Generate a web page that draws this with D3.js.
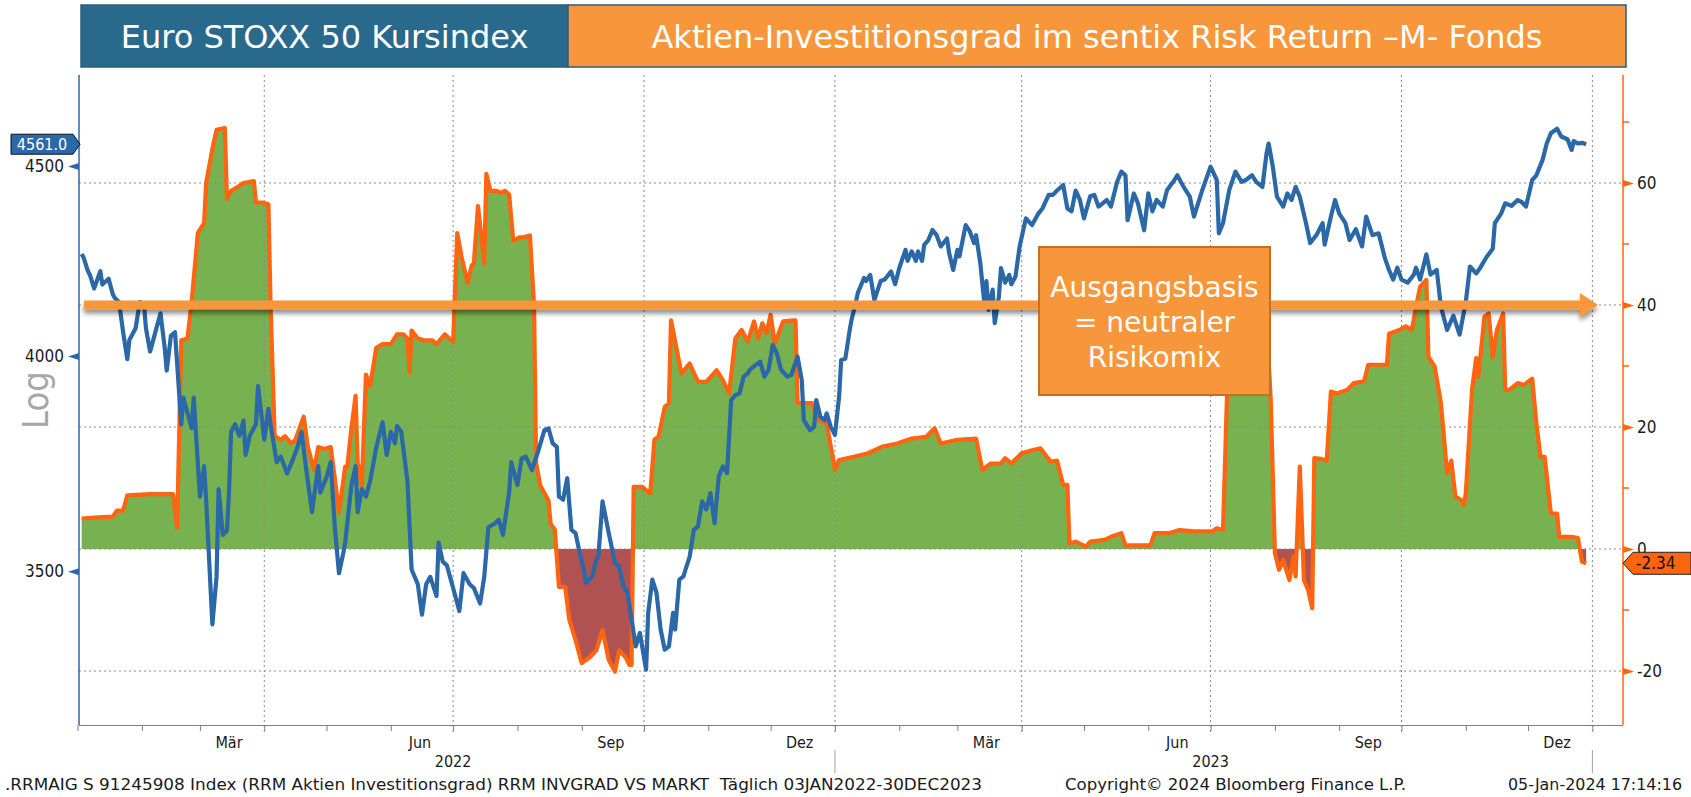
<!DOCTYPE html>
<meta charset="utf-8">
<body style="margin: 0; overflow: hidden; background: #fff">
<script src="https://d3js.org/d3.v7.min.js"></script>
<script>
    // Euro STOXX 50 Kursindex, left axis (log)
    var stoxx = [
        ["2022-01-03",4261],["2022-01-04",4251],["2022-01-06",4216],["2022-01-07",4206],["2022-01-09",4171],
        ["2022-01-12",4216],["2022-01-13",4181],["2022-01-16",4196],["2022-01-18",4156],["2022-01-19",4146],
        ["2022-01-21",4136],["2022-01-23",4059],["2022-01-25",3992],["2022-01-26",4040],["2022-01-29",4069],
        ["2022-01-31",4136],["2022-02-02",4131],["2022-02-03",4069],["2022-02-05",4011],["2022-02-06",4030],
        ["2022-02-08",4069],["2022-02-10",4107],["2022-02-12",4021],["2022-02-13",3964],["2022-02-15",4050],
        ["2022-02-17",4059],["2022-02-18",3982],["2022-02-20",3834],["2022-02-21",3898],["2022-02-23",3861],
        ["2022-02-25",3825],["2022-02-26",3898],["2022-03-01",3666],["2022-03-03",3736],["2022-03-04",3657],
        ["2022-03-07",3387],["2022-03-09",3488],["2022-03-10",3683],["2022-03-12",3580],["2022-03-14",3589],
        ["2022-03-15",3675],["2022-03-16",3816],["2022-03-18",3834],["2022-03-20",3807],["2022-03-22",3843],
        ["2022-03-23",3762],["2022-03-25",3807],["2022-03-28",3834],["2022-03-29",3926],["2022-04-01",3798],
        ["2022-04-03",3871],["2022-04-04",3834],["2022-04-07",3745],["2022-04-09",3758],["2022-04-12",3719],
        ["2022-04-15",3754],["2022-04-17",3780],["2022-04-19",3816],["2022-04-21",3736],["2022-04-24",3631],
        ["2022-04-27",3736],["2022-04-28",3675],["2022-05-01",3710],["2022-05-03",3745],["2022-05-05",3597],
        ["2022-05-07",3496],["2022-05-09",3538],["2022-05-10",3563],["2022-05-13",3692],["2022-05-15",3736],
        ["2022-05-16",3631],["2022-05-18",3683],["2022-05-20",3666],["2022-05-22",3701],["2022-05-25",3780],
        ["2022-05-28",3839],["2022-05-30",3762],["2022-06-01",3816],["2022-06-03",3789],["2022-06-04",3830],
        ["2022-06-06",3816],["2022-06-09",3701],["2022-06-11",3504],["2022-06-14",3472],["2022-06-16",3407],
        ["2022-06-18",3472],["2022-06-20",3488],["2022-06-23",3447],["2022-06-24",3563],["2022-06-26",3521],
        ["2022-06-28",3513],["2022-07-01",3464],["2022-07-04",3415],["2022-07-06",3496],["2022-07-09",3472],
        ["2022-07-11",3464],["2022-07-14",3431],["2022-07-16",3488],["2022-07-18",3597],["2022-07-21",3605],
        ["2022-07-23",3614],["2022-07-25",3580],["2022-07-28",3675],["2022-07-29",3745],["2022-08-01",3692],
        ["2022-08-03",3754],["2022-08-05",3758],["2022-08-08",3727],["2022-08-11",3771],["2022-08-14",3820],
        ["2022-08-16",3824],["2022-08-18",3789],["2022-08-20",3781],["2022-08-21",3666],["2022-08-23",3659],
        ["2022-08-25",3708],["2022-08-27",3591],["2022-08-29",3584],["2022-08-31",3540],["2022-09-02",3504],
        ["2022-09-03",3475],["2022-09-06",3489],["2022-09-08",3525],["2022-09-09",3532],["2022-09-11",3655],
        ["2022-09-14",3584],["2022-09-15",3562],["2022-09-17",3518],["2022-09-19",3511],["2022-09-21",3468],
        ["2022-09-23",3454],["2022-09-26",3369],["2022-09-27",3341],["2022-09-29",3369],["2022-10-02",3293],
        ["2022-10-03",3411],["2022-10-05",3482],["2022-10-07",3454],["2022-10-09",3376],["2022-10-11",3334],
        ["2022-10-13",3341],["2022-10-15",3411],["2022-10-16",3376],["2022-10-18",3482],["2022-10-20",3489],
        ["2022-10-21",3504],["2022-10-23",3532],["2022-10-25",3591],["2022-10-27",3599],["2022-10-29",3655],
        ["2022-10-31",3637],["2022-11-02",3674],["2022-11-04",3606],["2022-11-06",3712],["2022-11-08",3735],
        ["2022-11-10",3720],["2022-11-12",3892],["2022-11-14",3904],["2022-11-16",3908],["2022-11-18",3949],
        ["2022-11-20",3957],["2022-11-21",3966],["2022-11-23",3974],["2022-11-26",3986],["2022-11-28",3949],
        ["2022-11-30",3966],["2022-12-02",4027],["2022-12-04",4007],["2022-12-06",3966],["2022-12-09",3949],
        ["2022-12-11",3953],["2022-12-14",3998],["2022-12-16",3941],["2022-12-17",3844],["2022-12-20",3820],
        ["2022-12-22",3828],["2022-12-23",3892],["2022-12-25",3852],["2022-12-27",3844],["2022-12-28",3860],
        ["2022-12-30",3828],["2023-01-01",3809],["2023-01-03",3900],["2023-01-04",3990],["2023-01-06",3993],
        ["2023-01-08",4061],["2023-01-09",4091],["2023-01-11",4133],["2023-01-12",4159],["2023-01-15",4198],
        ["2023-01-16",4190],["2023-01-18",4206],["2023-01-20",4141],["2023-01-23",4190],["2023-01-25",4194],
        ["2023-01-28",4215],["2023-01-30",4182],["2023-02-01",4224],["2023-02-04",4272],["2023-02-05",4243],
        ["2023-02-07",4268],["2023-02-09",4243],["2023-02-10",4268],["2023-02-12",4243],["2023-02-13",4285],
        ["2023-02-15",4298],["2023-02-17",4325],["2023-02-19",4311],["2023-02-21",4281],["2023-02-24",4302],
        ["2023-02-25",4264],["2023-02-27",4219],["2023-03-01",4272],["2023-03-02",4255],["2023-03-05",4338],
        ["2023-03-07",4321],["2023-03-09",4290],["2023-03-10",4311],["2023-03-12",4239],["2023-03-14",4133],
        ["2023-03-15",4190],["2023-03-16",4116],["2023-03-18",4168],["2023-03-19",4082],["2023-03-21",4150],
        ["2023-03-22",4224],["2023-03-24",4186],["2023-03-26",4206],["2023-03-27",4182],["2023-03-29",4202],
        ["2023-03-31",4281],["2023-04-03",4356],["2023-04-06",4338],["2023-04-09",4369],["2023-04-11",4383],
        ["2023-04-14",4420],["2023-04-16",4420],["2023-04-18",4432],["2023-04-21",4447],["2023-04-23",4383],
        ["2023-04-25",4375],["2023-04-27",4432],["2023-04-29",4407],["2023-05-01",4356],["2023-05-04",4416],
        ["2023-05-06",4420],["2023-05-08",4388],["2023-05-10",4397],["2023-05-12",4406],["2023-05-14",4388],
        ["2023-05-17",4456],["2023-05-19",4484],["2023-05-21",4474],["2023-05-22",4351],["2023-05-25",4424],
        ["2023-05-27",4397],["2023-05-30",4324],["2023-06-01",4424],["2023-06-03",4375],["2023-06-05",4406],
        ["2023-06-08",4388],["2023-06-10",4433],["2023-06-13",4456],["2023-06-15",4474],["2023-06-18",4442],
        ["2023-06-21",4415],["2023-06-23",4361],["2023-06-27",4433],["2023-07-01",4498],["2023-07-04",4461],
        ["2023-07-05",4316],["2023-07-07",4343],["2023-07-10",4433],["2023-07-13",4484],["2023-07-16",4456],
        ["2023-07-18",4461],["2023-07-21",4474],["2023-07-23",4456],["2023-07-26",4442],["2023-07-28",4536],
        ["2023-07-29",4563],["2023-07-31",4498],["2023-08-02",4415],["2023-08-05",4388],["2023-08-07",4424],
        ["2023-08-09",4406],["2023-08-11",4442],["2023-08-13",4415],["2023-08-16",4343],["2023-08-18",4290],
        ["2023-08-21",4311],["2023-08-24",4343],["2023-08-25",4286],["2023-08-28",4361],["2023-08-30",4406],
        ["2023-09-01",4369],["2023-09-04",4343],["2023-09-06",4298],["2023-09-09",4327],["2023-09-12",4281],
        ["2023-09-14",4361],["2023-09-17",4311],["2023-09-20",4316],["2023-09-23",4250],["2023-09-25",4219],
        ["2023-09-27",4194],["2023-09-29",4225],["2023-10-01",4194],["2023-10-04",4186],["2023-10-07",4207],
        ["2023-10-08",4225],["2023-10-10",4194],["2023-10-13",4260],["2023-10-15",4207],["2023-10-18",4219],
        ["2023-10-20",4124],["2023-10-23",4065],["2023-10-26",4101],["2023-10-29",4053],["2023-11-01",4136],
        ["2023-11-03",4228],["2023-11-06",4210],["2023-11-08",4225],["2023-11-11",4253],["2023-11-14",4275],
        ["2023-11-15",4343],["2023-11-18",4369],["2023-11-20",4397],["2023-11-23",4390],["2023-11-26",4406],
        ["2023-11-28",4400],["2023-11-30",4388],["2023-12-03",4461],["2023-12-05",4474],["2023-12-08",4517],
        ["2023-12-10",4563],["2023-12-12",4592],["2023-12-15",4605],["2023-12-17",4583],["2023-12-20",4575],
        ["2023-12-22",4545],["2023-12-23",4570],["2023-12-25",4563],["2023-12-27",4565],["2023-12-29",4561]
    ];

    // Aktien-Investitionsgrad, right axis
    var invgrad = [
        ["2022-01-03",5.0],["2022-01-11",5.2],["2022-01-18",5.3],["2022-01-20",6.3],["2022-01-23",6.3],
        ["2022-01-25",8.8],["2022-02-05",9.0],["2022-02-16",9.0],["2022-02-18",3.5],["2022-02-20",34.2],
        ["2022-02-23",34.5],["2022-02-25",40.5],["2022-02-28",51.8],["2022-03-03",53.4],["2022-03-04",60.0],
        ["2022-03-07",65.6],["2022-03-09",68.7],["2022-03-13",69.0],["2022-03-14",57.4],["2022-03-16",58.7],
        ["2022-03-19",59.3],["2022-03-22",60.0],["2022-03-27",60.3],["2022-03-28",56.8],["2022-03-31",56.8],
        ["2022-04-03",56.5],["2022-04-04",40.5],["2022-04-06",18.5],["2022-04-09",17.9],["2022-04-11",18.5],
        ["2022-04-14",17.3],["2022-04-16",17.9],["2022-04-20",21.7],["2022-04-22",16.7],["2022-04-25",12.9],
        ["2022-04-27",16.7],["2022-04-30",16.4],["2022-05-03",16.7],["2022-05-05",11.6],["2022-05-07",6.0],
        ["2022-05-10",13.5],["2022-05-11",13.5],["2022-05-13",19.8],["2022-05-15",25.1],["2022-05-16",14.1],
        ["2022-05-18",10.4],["2022-05-20",28.6],["2022-05-22",26.7],["2022-05-25",33.0],["2022-05-28",33.6],
        ["2022-06-01",33.6],["2022-06-04",35.2],["2022-06-07",35.2],["2022-06-09",34.5],["2022-06-10",28.9],
        ["2022-06-11",35.8],["2022-06-14",34.5],["2022-06-17",34.2],["2022-06-21",34.2],["2022-06-23",33.6],
        ["2022-06-27",35.2],["2022-07-01",33.9],["2022-07-03",51.8],["2022-07-05",48.0],["2022-07-08",43.6],
        ["2022-07-10",46.5],["2022-07-11",46.8],["2022-07-13",56.2],["2022-07-16",46.8],["2022-07-17",61.5],
        ["2022-07-19",58.7],["2022-07-22",58.7],["2022-07-24",58.4],["2022-07-26",58.7],["2022-07-28",58.1],
        ["2022-07-30",50.5],["2022-08-02",51.1],["2022-08-04",51.1],["2022-08-07",51.4],["2022-08-09",39.9],
        ["2022-08-10",14.1],["2022-08-12",10.4],["2022-08-16",7.9],["2022-08-17",4.1],["2022-08-19",3.2],
        ["2022-08-21",-6.2],["2022-08-24",-6.2],["2022-08-26",-11.6],["2022-08-29",-14.9],["2022-09-01",-18.7],
        ["2022-09-05",-17.7],["2022-09-08",-16.6],["2022-09-11",-13.3],["2022-09-14",-18.2],["2022-09-17",-20.1],
        ["2022-09-19",-16.6],["2022-09-22",-17.7],["2022-09-24",-19.0],["2022-09-25",-19.0],["2022-09-26",10.2],
        ["2022-09-30",10.2],["2022-10-04",9.1],["2022-10-06",17.9],["2022-10-08",18.4],["2022-10-11",23.3],
        ["2022-10-13",23.9],["2022-10-14",37.5],["2022-10-19",28.8],["2022-10-23",30.4],["2022-10-27",27.4],
        ["2022-10-31",27.4],["2022-11-05",29.3],["2022-11-08",27.7],["2022-11-11",25.5],["2022-11-14",34.5],
        ["2022-11-17",35.9],["2022-11-20",34.0],["2022-11-23",37.3],["2022-11-25",34.5],["2022-11-27",37.0],
        ["2022-11-29",35.4],["2022-12-01",38.4],["2022-12-03",33.7],["2022-12-07",37.3],["2022-12-12",37.5],
        ["2022-12-13",37.5],["2022-12-14",23.9],["2022-12-21",23.9],["2022-12-24",21.1],["2022-12-28",20.6],
        ["2023-01-01",13.0],["2023-01-03",14.6],["2023-01-10",15.1],["2023-01-17",15.7],["2023-01-24",16.8],
        ["2023-01-31",17.3],["2023-02-07",18.1],["2023-02-14",18.4],["2023-02-18",19.8],["2023-02-21",17.3],
        ["2023-03-01",17.9],["2023-03-10",18.1],["2023-03-13",13.0],["2023-03-17",14.0],["2023-03-22",14.0],
        ["2023-03-24",14.9],["2023-03-27",14.0],["2023-04-01",15.7],["2023-04-06",16.2],["2023-04-10",16.5],
        ["2023-04-15",14.3],["2023-04-18",14.5],["2023-04-21",10.5],["2023-04-23",10.5],["2023-04-24",0.9],
        ["2023-04-27",1.2],["2023-05-02",0.4],["2023-05-04",1.2],["2023-05-11",1.5],["2023-05-14",2.0],
        ["2023-05-19",2.6],["2023-05-21",0.6],["2023-06-02",0.6],["2023-06-04",2.6],["2023-06-11",2.6],
        ["2023-06-16",3.1],["2023-06-23",2.9],["2023-07-02",2.9],["2023-07-04",3.4],["2023-07-07",3.1],
        ["2023-07-09",26.1],["2023-07-11",44.0],["2023-07-27",44.0],["2023-07-30",24.4],["2023-08-01",-0.7],
        ["2023-08-03",-3.4],["2023-08-05",-1.8],["2023-08-08",-5.1],["2023-08-10",-1.2],["2023-08-11",-4.5],
        ["2023-08-13",13.5],["2023-08-15",-5.1],["2023-08-17",-6.7],["2023-08-19",-9.7],["2023-08-20",14.9],
        ["2023-08-23",14.8],["2023-08-26",14.5],["2023-08-28",25.8],["2023-08-31",25.5],["2023-09-05",26.1],
        ["2023-09-08",27.2],["2023-09-13",27.5],["2023-09-15",30.2],["2023-09-24",30.2],["2023-09-25",35.3],
        ["2023-09-30",35.9],["2023-10-03",36.5],["2023-10-06",35.9],["2023-10-08",39.7],["2023-10-10",43.0],
        ["2023-10-13",44.1],["2023-10-14",31.5],["2023-10-17",29.9],["2023-10-20",23.9],["2023-10-23",12.4],
        ["2023-10-25",14.5],["2023-10-27",8.6],["2023-10-30",8.0],["2023-10-31",7.2],["2023-11-01",9.1],
        ["2023-11-04",26.1],["2023-11-06",31.3],["2023-11-07",28.2],["2023-11-10",38.1],["2023-11-12",38.6],
        ["2023-11-14",31.5],["2023-11-16",35.9],["2023-11-19",38.6],["2023-11-20",26.1],["2023-11-22",26.1],
        ["2023-11-26",27.2],["2023-11-29",26.9],["2023-12-03",27.9],["2023-12-05",20.6],["2023-12-07",15.1],
        ["2023-12-09",15.1],["2023-12-12",5.8],["2023-12-15",5.8],["2023-12-16",2.0],["2023-12-22",2.0],
        ["2023-12-25",1.8],["2023-12-27",-2.1],["2023-12-29",-2.34]
    ];

    var leftTicks = [3500, 4000, 4500];
    var rightTicks = [-20, 0, 20, 40, 60];
    var rightMinor = [-10, 10, 30, 50, 70];
    var monthNames = ["Mär", "Jun", "Sep", "Dez"];
    var years = [2022, 2023];
    var baseLevel = 40;
    var titleLeft = "Euro STOXX 50 Kursindex";
    var titleRight = "Aktien-Investitionsgrad im sentix Risk Return \u2013M- Fonds";
    var noteLines = ["Ausgangsbasis", "= neutraler", "Risikomix"];
    var footLeft = ".RRMAIG S 91245908 Index (RRM Aktien Investitionsgrad) RRM INVGRAD VS MARKT  T\u00e4glich 03JAN2022-30DEC2023";
    var footMid = "Copyright\u00a9 2024 Bloomberg Finance L.P.";
    var footRight = "05-Jan-2024 17:14:16";

    var W = 1691, H = 797;
    var plotL = 79, plotR = 1623, plotT = 75, plotB = 725;
    var blue = "#2A68A8", orange = "#FF6410", boxOrange = "#F7963A", grid = "#8a8a8a";
    var bbFont = "DejaVu Sans Condensed";

    var parse = d3.utcParse("%Y-%m-%d");
    var stoxxData = stoxx.map(function (d) { return {date: parse(d[0]), value: d[1]}; });
    var gradData = invgrad.map(function (d) { return {date: parse(d[0]), value: d[1]}; });

    var x = d3.scaleUtc()
        .domain([new Date(Date.UTC(2022, 0, 1)), new Date(Date.UTC(2024, 0, 15, 18))])
        .range([77.5, plotR]);
    var yL = d3.scaleLog().domain([3182, 4761]).range([plotB, plotT]);
    var yR = d3.scaleLinear().domain([-28.85, 77.7]).range([plotB, plotT]);

    var svg = d3.select("body").append("svg")
        .attr("width", W).attr("height", H)
        .style("font-family", "DejaVu Sans");

    var defs = svg.append("defs");
    defs.append("clipPath").attr("id", "plot").append("rect")
        .attr("x", plotL).attr("y", plotT).attr("width", plotR - plotL).attr("height", plotB - plotT);
    defs.append("clipPath").attr("id", "pos").append("rect")
        .attr("x", plotL).attr("y", plotT).attr("width", plotR - plotL).attr("height", yR(0) - plotT);
    defs.append("clipPath").attr("id", "neg").append("rect")
        .attr("x", plotL).attr("y", yR(0)).attr("width", plotR - plotL).attr("height", plotB - yR(0));
    var shadow = defs.append("filter").attr("id", "shadow")
        .attr("x", "-5%").attr("y", "-100%").attr("width", "110%").attr("height", "300%");
    shadow.append("feDropShadow").attr("dx", 0).attr("dy", 4).attr("stdDeviation", 2.5)
        .attr("flood-color", "#000").attr("flood-opacity", 0.45);

    // header boxes
    svg.append("rect").attr("x", 81).attr("y", 5).attr("width", 487).attr("height", 62)
        .attr("fill", "#29698C").attr("stroke", "#2B5D7D").attr("stroke-width", 1.5);
    svg.append("rect").attr("x", 568).attr("y", 5).attr("width", 1058).attr("height", 62)
        .attr("fill", boxOrange).attr("stroke", "#2B5D7D").attr("stroke-width", 1.5);
    svg.append("text").attr("x", 324.5).attr("y", 47.5).attr("text-anchor", "middle")
        .attr("fill", "#fff").style("font-size", "32px").text(titleLeft);
    svg.append("text").attr("x", 1097).attr("y", 47.5).attr("text-anchor", "middle")
        .attr("fill", "#fff").style("font-size", "32px").text(titleRight);

    // filled area: green above 0, red below
    var area = d3.area()
        .x(function (d) { return x(d.date); })
        .y0(yR(0))
        .y1(function (d) { return yR(d.value); });
    svg.append("path").datum(gradData).attr("clip-path", "url(#pos)")
        .attr("fill", "#78B250").attr("d", area);
    svg.append("path").datum(gradData).attr("clip-path", "url(#neg)")
        .attr("fill", "#B05252").attr("d", area);

    // grid
    var quarters = d3.utcMonth.every(3).range(new Date(Date.UTC(2022, 1, 1)), new Date(Date.UTC(2024, 0, 2)));
    svg.append("g").selectAll("line").data(rightTicks).enter().append("line")
        .attr("x1", plotL).attr("x2", plotR)
        .attr("y1", function (d) { return yR(d); }).attr("y2", function (d) { return yR(d); })
        .attr("stroke", grid).attr("stroke-dasharray", "2,3");
    svg.append("g").selectAll("line").data(quarters).enter().append("line")
        .attr("x1", function (d) { return x(d); }).attr("x2", function (d) { return x(d); })
        .attr("y1", plotT).attr("y2", plotB + 7)
        .attr("stroke", grid).attr("stroke-dasharray", "2,3");

    // lines
    var gradLine = d3.line()
        .x(function (d) { return x(d.date); })
        .y(function (d) { return yR(d.value); });
    var stoxxLine = d3.line()
        .x(function (d) { return x(d.date); })
        .y(function (d) { return yL(d.value); });
    svg.append("path").datum(gradData).attr("clip-path", "url(#plot)")
        .attr("fill", "none").attr("stroke", orange).attr("stroke-width", 4.2)
        .attr("stroke-linejoin", "round").attr("d", gradLine);
    svg.append("path").datum(stoxxData).attr("clip-path", "url(#plot)")
        .attr("fill", "none").attr("stroke", blue).attr("stroke-width", 4.2)
        .attr("stroke-linejoin", "round").attr("d", stoxxLine);

    // x axis
    var xAxis = d3.axisBottom(x).ticks(d3.utcMonth.every(1)).tickSize(6).tickSizeOuter(0).tickFormat("");
    var gx = svg.append("g").attr("transform", "translate(0," + plotB + ")").call(xAxis);
    gx.selectAll("path, line").attr("stroke", "#7f7f7f");
    gx.select(".domain").attr("d", "M" + plotL + ",0.5H" + plotR);

    var monthPos = [];
    years.forEach(function (yr) {
        monthNames.forEach(function (m, i) {
            monthPos.push({date: new Date(Date.UTC(yr, 2 + 3 * i, 15)), label: m});
        });
    });
    svg.append("g").selectAll("text").data(monthPos).enter().append("text")
        .attr("x", function (d) { return x(d.date); }).attr("y", 748)
        .attr("text-anchor", "middle").attr("fill", "#1a1a1a")
        .style("font-family", bbFont).style("font-size", "16px")
        .text(function (d) { return d.label; });
    svg.append("g").selectAll("text").data(years).enter().append("text")
        .attr("x", function (d) { return x(new Date(Date.UTC(d, 6, 1))); }).attr("y", 767)
        .attr("text-anchor", "middle").attr("fill", "#1a1a1a")
        .style("font-family", bbFont).style("font-size", "16px")
        .text(function (d) { return d; });
    svg.append("g").selectAll("line").data([2023, 2024]).enter().append("line")
        .attr("x1", function (d) { return x(new Date(Date.UTC(d, 0, 1))); })
        .attr("x2", function (d) { return x(new Date(Date.UTC(d, 0, 1))); })
        .attr("y1", 750).attr("y2", 773).attr("stroke", "#a0a0a0");

    // left axis
    var gl = svg.append("g").attr("transform", "translate(" + plotL + ",0)")
        .call(d3.axisLeft(yL).tickValues(leftTicks).tickSize(0).tickPadding(15).tickFormat(d3.format("d")));
    gl.select(".domain").attr("stroke", blue).attr("stroke-width", 1.5).attr("d", "M0," + plotT + "V" + plotB);
    gl.selectAll("text").attr("fill", "#1a1a1a").style("font-family", bbFont).style("font-size", "17px");
    gl.selectAll(".tick").append("path").attr("d", "M0,-3.5L-11,0L0,3.5Z").attr("fill", blue);

    svg.append("text").attr("transform", "translate(48,400) rotate(-90)")
        .attr("text-anchor", "middle").attr("fill", "#a6a6a6")
        .style("font-family", bbFont).style("font-size", "36px").text("Log");

    // right axis
    var gr = svg.append("g").attr("transform", "translate(" + plotR + ",0)")
        .call(d3.axisRight(yR).tickValues(rightTicks).tickSize(0).tickPadding(14)
            .tickFormat(function (d) { return String(d); }));
    gr.select(".domain").attr("stroke", orange).attr("stroke-width", 1.5).attr("d", "M0," + plotT + "V" + plotB);
    gr.selectAll("text").attr("fill", "#1a1a1a").style("font-family", bbFont).style("font-size", "17px");
    gr.selectAll(".tick").append("path").attr("d", "M0,-3.5L11,0L0,3.5Z").attr("fill", orange);
    gr.append("g").selectAll("line").data(rightMinor).enter().append("line")
        .attr("x1", 0).attr("x2", 6)
        .attr("y1", function (d) { return yR(d); }).attr("y2", function (d) { return yR(d); })
        .attr("stroke", orange).attr("stroke-width", 1.5);

    // base arrow
    var ay = yR(baseLevel);
    var arrow = svg.append("g").attr("filter", "url(#shadow)");
    arrow.append("line").attr("x1", 84).attr("x2", 1582).attr("y1", ay).attr("y2", ay)
        .attr("stroke", boxOrange).attr("stroke-width", 9);
    arrow.append("path")
        .attr("d", "M1580," + (ay - 12) + "L1598," + ay + "L1580," + (ay + 12) + "Z")
        .attr("fill", boxOrange);

    // note box
    svg.append("rect").attr("x", 1039).attr("y", 247).attr("width", 231).attr("height", 148)
        .attr("fill", boxOrange).attr("stroke", "#C46F22").attr("stroke-width", 2);
    svg.append("g").selectAll("text").data(noteLines).enter().append("text")
        .attr("x", 1154.5).attr("y", function (d, i) { return 297 + i * 35; })
        .attr("text-anchor", "middle").attr("fill", "#fff").style("font-size", "28px")
        .text(function (d) { return d; });

    // last value tags
    var lastS = stoxxData[stoxxData.length - 1], lastG = gradData[gradData.length - 1];
    var sy = yL(lastS.value);
    svg.append("path")
        .attr("d", "M11," + (sy - 10) + "H73L80," + sy + "L73," + (sy + 10) + "H11Z")
        .attr("fill", blue).attr("stroke", "#111").attr("stroke-width", 1);
    svg.append("text").attr("x", 42).attr("y", sy + 5.5).attr("text-anchor", "middle")
        .attr("fill", "#fff").style("font-family", bbFont).style("font-size", "16px")
        .text(lastS.value.toFixed(1));
    var gy = yR(lastG.value);
    svg.append("path")
        .attr("d", "M" + plotR + "," + gy + "L1633," + (gy - 11) + "H1691V" + (gy + 11) + "H1633Z")
        .attr("fill", "#FF6410").attr("stroke", "#222").attr("stroke-width", 1);
    svg.append("text").attr("x", 1636).attr("y", gy + 6).attr("fill", "#111")
        .style("font-family", bbFont).style("font-size", "17px")
        .text(lastG.value.toFixed(2));

    // footer
    svg.append("text").attr("x", 5).attr("y", 790).attr("textLength", 977).attr("lengthAdjust", "spacingAndGlyphs")
        .attr("fill", "#1a1a1a").style("white-space", "pre")
        .style("font-family", bbFont).style("font-size", "16px").text(footLeft);
    svg.append("text").attr("x", 1065).attr("y", 790).attr("textLength", 341).attr("lengthAdjust", "spacingAndGlyphs")
        .attr("fill", "#1a1a1a").style("font-family", bbFont).style("font-size", "16px").text(footMid);
    svg.append("text").attr("x", 1508).attr("y", 790).attr("textLength", 174).attr("lengthAdjust", "spacingAndGlyphs")
        .attr("fill", "#1a1a1a").style("font-family", bbFont).style("font-size", "16px").text(footRight);
</script>
